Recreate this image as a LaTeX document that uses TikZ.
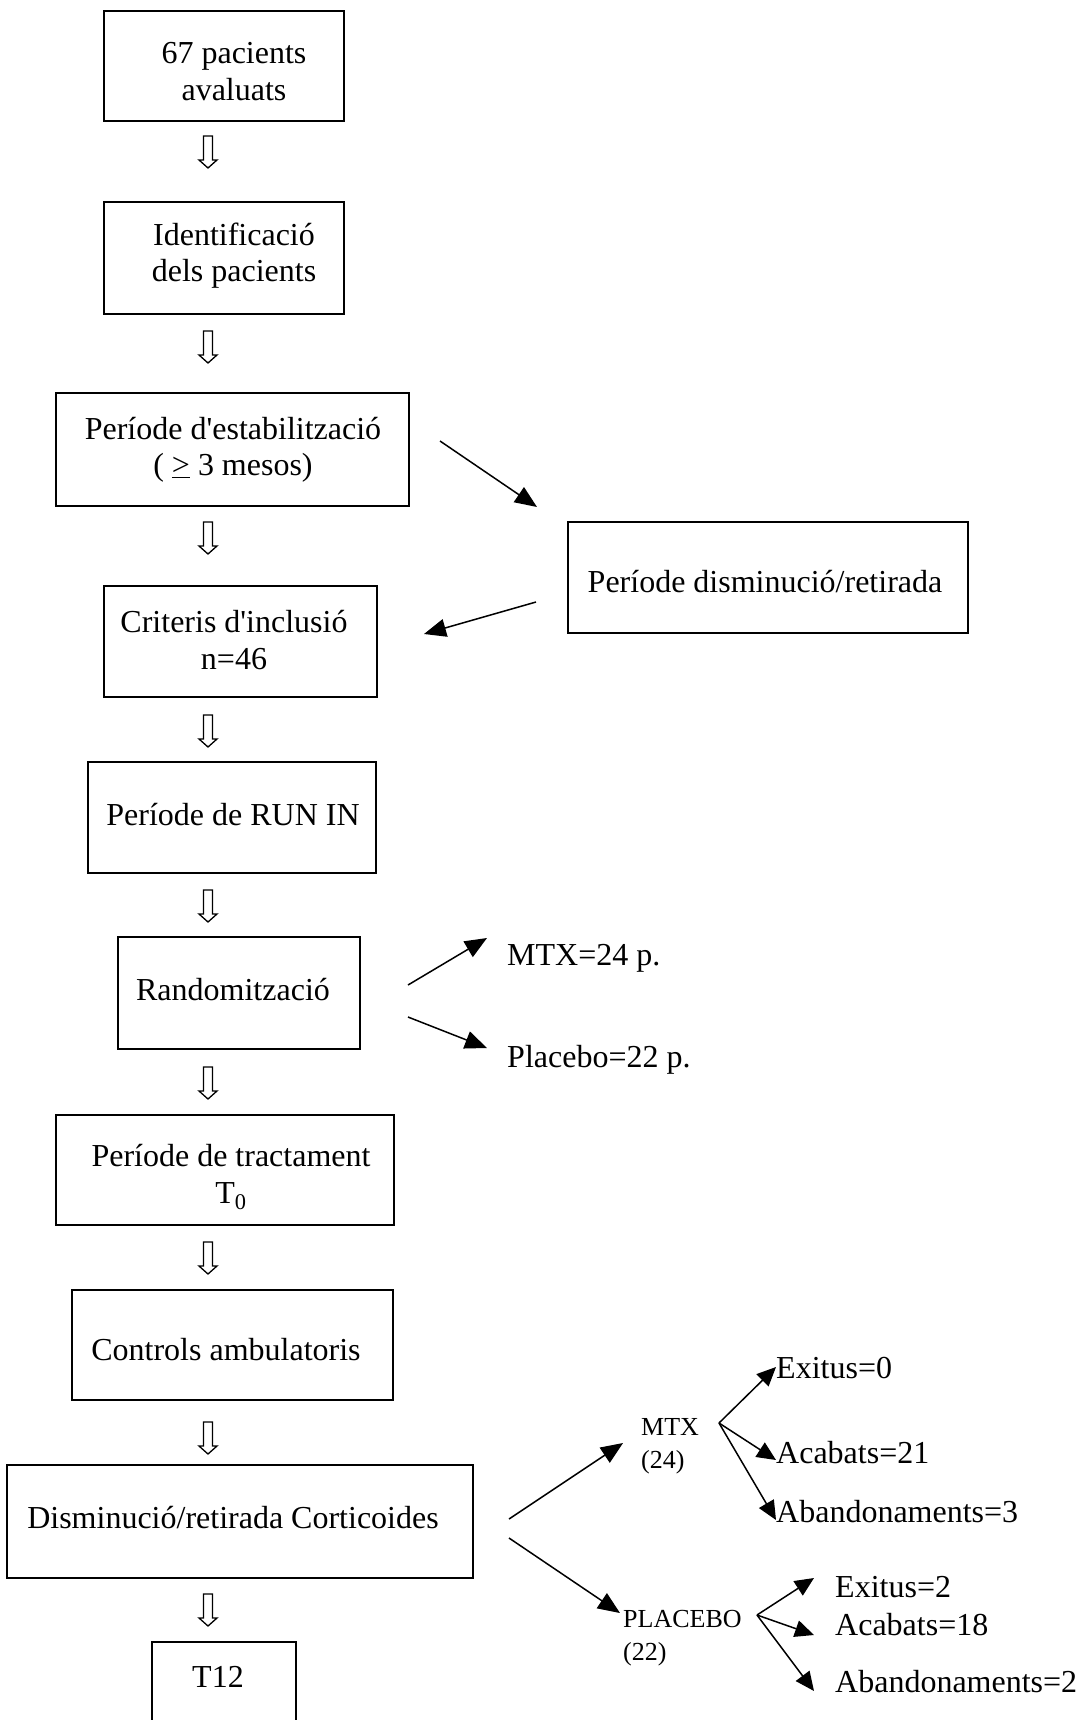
\documentclass[tikz,border=0pt]{standalone}
\usepackage{fontspec}
\setmainfont{Liberation Serif}
\usetikzlibrary{arrows.meta}
\tikzset{
  box/.style={draw, line width=1.6pt, inner sep=0pt},
  txt/.style={inner sep=0pt, align=center, font=\fontsize{32}{36.5}\selectfont},
  lbl/.style={inner sep=0pt, anchor=west, align=left, font=\fontsize{32}{36.5}\selectfont},
  smalllbl/.style={inner sep=0pt, anchor=west, align=left, font=\fontsize{26}{33}\selectfont},
  conn/.style={line width=1.5pt, -{Triangle[length=22pt,width=18pt]}},
  sconn/.style={line width=1.5pt, -{Triangle[length=19pt,width=17pt]}},
  hollowdown/.pic={\draw[line width=1.3pt, line join=miter]
     (-4.5,0) -- (4.5,0) -- (4.5,24) -- (9,24) -- (0,32) -- (-9,24) -- (-4.5,24) -- cycle;}
}
\begin{document}
\begin{tikzpicture}[x=1pt,y=-1pt]
\useasboundingbox (0,0) rectangle (1079,1720);
\clip (0,0) rectangle (1079,1720);

% boxes
\node[box, minimum width=240, minimum height=110] (b1) at (224,66) {};
\node[box, minimum width=240, minimum height=112] (b2) at (224,258) {};
\node[box, minimum width=353, minimum height=113] (b3) at (232.5,449.5) {};
\node[box, minimum width=273, minimum height=111] (b4) at (240.5,641.5) {};
\node[box, minimum width=400, minimum height=111] (bd) at (768,577.5) {};
\node[box, minimum width=288, minimum height=111] (b5) at (232,817.5) {};
\node[box, minimum width=242, minimum height=112] (b6) at (239,993) {};
\node[box, minimum width=338, minimum height=110] (b7) at (225,1170) {};
\node[box, minimum width=321, minimum height=110] (b8) at (232.5,1345) {};
\node[box, minimum width=466, minimum height=113] (b9) at (240,1521.5) {};
\node[box, minimum width=144, minimum height=120] (b10) at (224,1702) {};

% box texts
\node[txt] (t1) at (234,71.5) {67 pacients\\avaluats};
\node[txt] (t2) at (234,255.5) {Identificació\\dels pacients};
\node[txt] (t3) at (233,450) {Període d\textquotesingle estabilització\\( \underline{>} 3 mesos)};
\node[txt] (t4) at (234,640) {Criteris d\textquotesingle inclusió\\n=46};
\node[txt] (td) at (765,582) {Període disminució/retirada};
\node[txt] (t5) at (233,815) {Període de RUN IN};
\node[txt] (t6) at (233,990) {Randomització};
\node[txt] (t7) at (231,1177) {Període de tractament\\T\textsubscript{0}};
\node[txt] (t8) at (226,1350) {Controls ambulatoris};
\node[txt] (t9) at (233,1518) {Disminució/retirada Corticoides};
\node[txt] (t10) at (218,1677) {T12};

% hollow down arrows
\pic at (208,136) {hollowdown};
\pic at (208,331) {hollowdown};
\pic at (208,522) {hollowdown};
\pic at (208,715) {hollowdown};
\pic at (208,890) {hollowdown};
\pic at (208,1067) {hollowdown};
\pic at (208,1242) {hollowdown};
\pic at (208,1422) {hollowdown};
\pic at (208,1594) {hollowdown};

% side loop
\coordinate (s1) at (440,441);
\coordinate (e1) at (537,507);
\coordinate (s2) at (536,602);
\coordinate (e2) at (424,634);
\draw[conn] (s1) -- (e1);
\draw[conn] (s2) -- (e2);

% randomisation
\node[lbl] (mtx) at (507,958) {MTX=24 p.};
\node[lbl] (plc) at (507,1060) {Placebo=22 p.};
\coordinate (r1) at (408,985);
\coordinate (r2) at (408,1017);
\coordinate (r1e) at (487,938);
\coordinate (r2e) at (487,1048);
\draw[conn] (r1) -- (r1e);
\draw[conn] (r2) -- (r2e);

% final branches
\node[smalllbl] (gm) at (641,1446) {MTX\\(24)};
\node[smalllbl] (gp) at (623,1638) {PLACEBO\\(22)};
\coordinate (c1) at (509,1519);
\coordinate (c2) at (509,1538);
\coordinate (c1e) at (623,1443);
\coordinate (c2e) at (620,1613);
\draw[conn] (c1) -- (c1e);
\draw[conn] (c2) -- (c2e);

\node[lbl] (ex0) at (776,1368) {Exitus=0};
\node[lbl] (ac21) at (776,1453) {Acabats=21};
\node[lbl] (ab3) at (776,1512) {Abandonaments=3};
\coordinate (om) at (719,1423);
\draw[sconn] (om) -- (776,1367);
\draw[sconn] (om) -- (776,1460);
\draw[sconn] (om) -- (776,1520);

\node[lbl] (ex2) at (835,1587) {Exitus=2};
\node[lbl] (ac18) at (835,1625) {Acabats=18};
\node[lbl] (ab2) at (835,1682) {Abandonaments=2};
\coordinate (op) at (757,1615);
\draw[sconn] (op) -- (814,1578);
\draw[sconn] (op) -- (814,1635);
\draw[sconn] (op) -- (814,1691);
\end{tikzpicture}
\end{document}
